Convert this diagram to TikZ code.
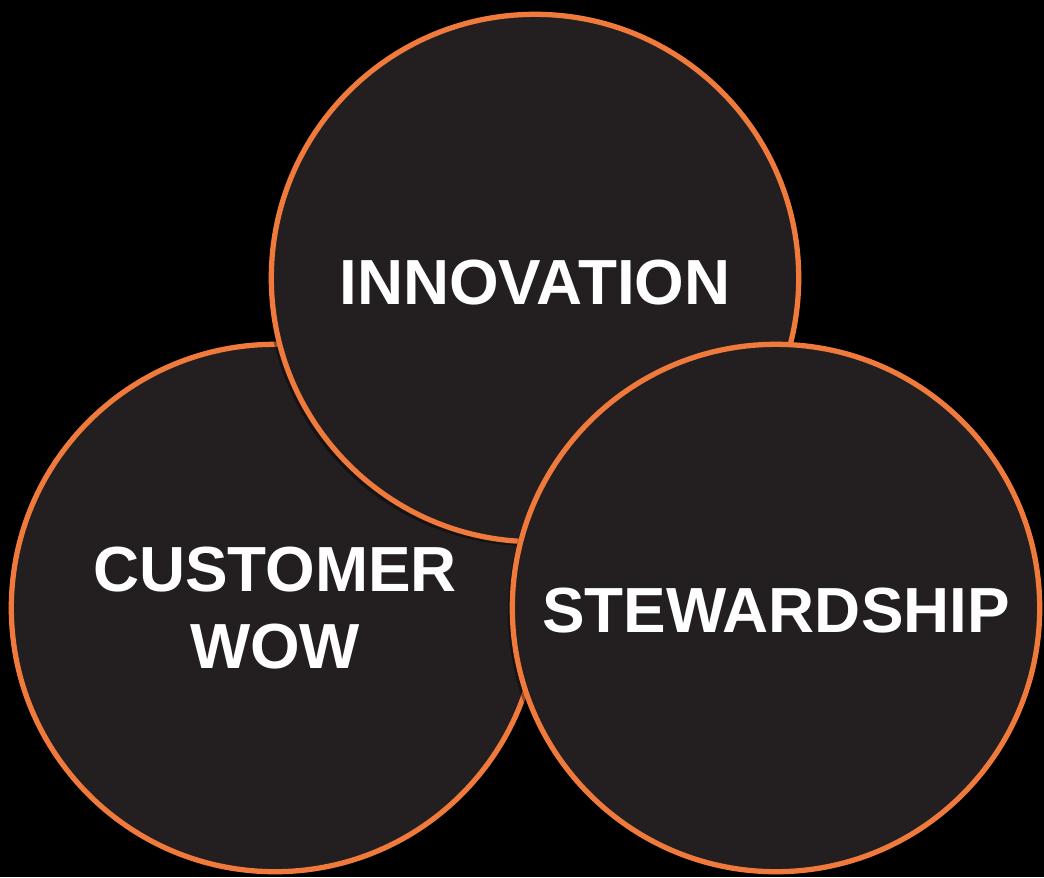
\documentclass[tikz,border=0pt]{standalone}
\usepackage{fontspec}
\setmainfont{Liberation Sans}
\usetikzlibrary{shadows}
\definecolor{ringorange}{HTML}{EF7A3B}
\definecolor{discgrey}{HTML}{231F20}
\newcommand{\lowertext}[2]{\raisebox{-#1}[\height][\depth]{#2}}
\tikzset{
  bubble/.style={circle, draw=ringorange, fill=discgrey, line width=3pt,
    minimum size=10.55cm, inner sep=0pt, text=white, align=center,
    font=\fontsize{36.3}{43.5}\selectfont\bfseries,
    drop shadow={fill=black, opacity=0.4, shadow xshift=-2.5pt, shadow yshift=-2.5pt}}
}
\begin{document}
\begin{tikzpicture}[x=0.02cm, y=-0.02cm]
        \fill[black] (0, 0) rectangle (1044, 877);
        \useasboundingbox (0, 0) rectangle (1044, 877);

        \node[bubble] (customer) at (275, 608) {CUSTOMER\\WOW};
        \node[bubble] (innovation) at (535, 278) {\lowertext{2.6pt}{INNOVATION}};
        \node[bubble] (stewardship) at (776, 608) {\lowertext{1.4pt}{STEWARDSHIP}};
      \end{tikzpicture}
\end{document}
